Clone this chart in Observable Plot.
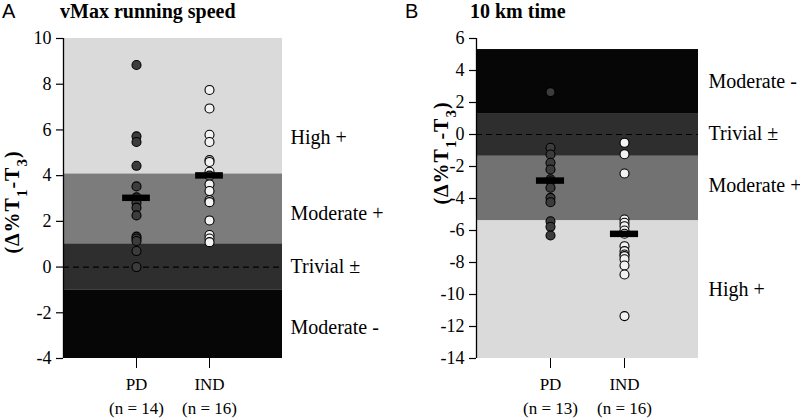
<!DOCTYPE html>
<html><head><meta charset="utf-8">
<script src="https://cdn.jsdelivr.net/npm/d3@7"></script>
<script src="https://cdn.jsdelivr.net/npm/@observablehq/plot@0.6"></script>
<style>
body{margin:0;background:#fff;}
#wrap{position:relative;width:800px;height:418px;overflow:hidden;}
.panel{position:absolute;top:0;}
#wrap svg, #wrap svg text{font-family:"Liberation Serif","Times New Roman",serif !important;}
.letter{position:absolute;font-family:"Liberation Sans",Arial,sans-serif;font-size:20px;line-height:24px;}
.title{position:absolute;font-family:"Liberation Serif","Times New Roman",serif;font-weight:bold;font-size:20px;line-height:20px;}
</style></head><body><div id="wrap"></div>
<script>
// ---- data ----
const groupPos = [1, 2];
const tickLabelsA = ["PD\n(n = 14)", "IND\n(n = 16)"];
const tickLabelsB = ["PD\n(n = 13)", "IND\n(n = 16)"];

const vmaxPD  = [8.84, 5.72, 5.47, 4.43, 3.53, 3.05, 2.81, 2.60, 2.26, 1.33, 1.25, 1.14, 0.70, 0.0];
const vmaxIND = [7.75, 6.94, 5.79, 5.47, 4.68, 4.60, 4.17, 4.00, 3.62, 3.33, 2.93, 2.84, 2.04, 1.40, 1.25, 1.09];
const vmaxMeans = [3.03, 4.01];
const yTicksA = [-4, -2, 0, 2, 4, 6, 8, 10];
const bandLoA = [-4, -1.02, 1.02, 4.08];
const bandHiA = [-1.02, 1.02, 4.08, 10];
const bandNamesA = ["Moderate -", "Trivial ±", "Moderate +", "High +"];
const bandLabelYA = [-2.63, 0, 2.36, 5.65];

const timePD  = [2.65, -0.83, -1.25, -1.77, -2.19, -2.80, -2.92, -3.33, -3.96, -4.23, -5.42, -5.77, -6.31];
const timeIND = [-0.52, -1.23, -2.44, -5.31, -5.52, -5.73, -6.00, -6.20, -6.98, -7.29, -7.50, -7.60, -7.80, -8.19, -8.75, -11.35];
const timeMeans = [-2.88, -6.21];
const yTicksB = [-14, -12, -10, -8, -6, -4, -2, 0, 2, 4, 6];
const bandLoB = [-14, -5.38, -1.36, 1.31];
const bandHiB = [-5.38, -1.36, 1.31, 5.31];
const bandNamesB = ["High +", "Moderate +", "Trivial ±", "Moderate -"];
const bandLabelYB = [-9.69, -3.19, 0.06, 3.31];

// ---- styles ----
const fillsA = ["#060606", "#2e2e2e", "#7c7c7c", "#dadada"];
const fillsB = ["#dadada", "#727272", "#2e2e2e", "#060606"];
const SERIF = "'Liberation Serif', 'Times New Roman', serif";

function panel(o) {
  const bands = o.lo.map((lo, i) => ({lo, hi: o.hi[i], fill: o.fills[i]}));
  const pts = o.pd.map(v => ({pos: groupPos[0], v}));
  const ptsInd = o.ind.map(v => ({pos: groupPos[1], v}));
  const means = o.means.map((v, i) => ({pos: groupPos[i], v}));
  const labels = o.names.map((t, i) => ({t, v: o.labelY[i]}));
  const plot = Plot.plot({
    width: 400, height: 418,
    marginTop: 38, marginBottom: 60, marginLeft: o.ml, marginRight: o.mr,
    x: {domain: [0, 3], axis: null},
    y: {domain: o.yDomain, axis: null},
    style: {fontFamily: SERIF, fontSize: "18px", background: "transparent", overflow: "visible", color: "#000"},
    marks: [
      Plot.rect(bands, {x1: () => 0, x2: () => 3, y1: "lo", y2: "hi", fill: "fill"}),
      Plot.ruleY([0], {stroke: "#000", strokeWidth: 1.2, strokeDasharray: "6,4"}),
      Plot.dot(pts, {x: "pos", y: "v", r: 4.5, fill: "#3c3c3c", stroke: "#000", strokeWidth: 1.1}),
      Plot.dot(ptsInd, {x: "pos", y: "v", r: 4.5, fill: "#f2f2f2", stroke: "#000", strokeWidth: 1.1}),
      Plot.ruleY(means, {x1: d => d.pos - 0.19, x2: d => d.pos + 0.19, y: "v", stroke: "#000", strokeWidth: 6.5}),
      Plot.ruleX([0], {y1: () => o.yDomain[0], y2: () => o.yDomain[1], stroke: "#000", strokeWidth: 1.3}),
      Plot.axisY({ticks: o.yTicks, tickSize: 7, tickPadding: 5, tickFormat: d => String(d), fontSize: 18, fontFamily: SERIF, strokeWidth: 1.2, label: null}),
      Plot.axisX({ticks: groupPos, tickSize: 10, tickPadding: 5, tickFormat: (d, i) => o.tickLabels[i], fontSize: 17, fontFamily: SERIF, lineHeight: 1.4, label: null}),
      Plot.text(labels, {x: () => 3, y: "v", text: "t", dx: o.labelDx, textAnchor: "start", fontSize: 20, fontFamily: SERIF})
    ]
  });
  const svg = d3.select(plot);
  const t = svg.append("text")
    .attr("transform", `translate(${o.labX},${o.labY}) rotate(-90)`)
    .attr("text-anchor", "middle")
    .attr("font-family", SERIF)
    .attr("font-weight", "bold")
    .attr("font-size", 20)
    .attr("letter-spacing", 1)
    .attr("fill", "#000");
  t.append("tspan").text("(Δ%T");
  t.append("tspan").attr("baseline-shift", "sub").attr("font-size", 15).text("1");
  t.append("tspan").text("-T");
  t.append("tspan").attr("baseline-shift", "sub").attr("font-size", 15).text("3");
  t.append("tspan").text(")");
  return plot;
}

const wrap = document.getElementById("wrap");
const pA = panel({ml: 63, mr: 118, yDomain: [-4, 10], yTicks: yTicksA, pd: vmaxPD, ind: vmaxIND, means: vmaxMeans,
  lo: bandLoA, hi: bandHiA, fills: fillsA, names: bandNamesA, labelY: bandLabelYA, tickLabels: tickLabelsA,
  labelDx: 8, labX: 19, labY: 202});
const pB = panel({ml: 76, mr: 102, yDomain: [-14, 6], yTicks: yTicksB, pd: timePD, ind: timeIND, means: timeMeans,
  lo: bandLoB, hi: bandHiB, fills: fillsB, names: bandNamesB, labelY: bandLabelYB, tickLabels: tickLabelsB,
  labelDx: 10, labX: 48, labY: 153});
const dA = document.createElement("div"); dA.className = "panel"; dA.style.left = "0px"; dA.appendChild(pA);
const dB = document.createElement("div"); dB.className = "panel"; dB.style.left = "400px"; dB.appendChild(pB);
wrap.appendChild(dA); wrap.appendChild(dB);

function addText(cls, txt, left, top) {
  const d = document.createElement("div"); d.className = cls; d.textContent = txt;
  d.style.left = left + "px"; d.style.top = top + "px"; wrap.appendChild(d);
}
addText("letter", "A", 2, -1);
addText("title", "vMax running speed", 60, 1);
addText("letter", "B", 405, -1);
addText("title", "10 km time", 470, 1);
</script></body></html>
